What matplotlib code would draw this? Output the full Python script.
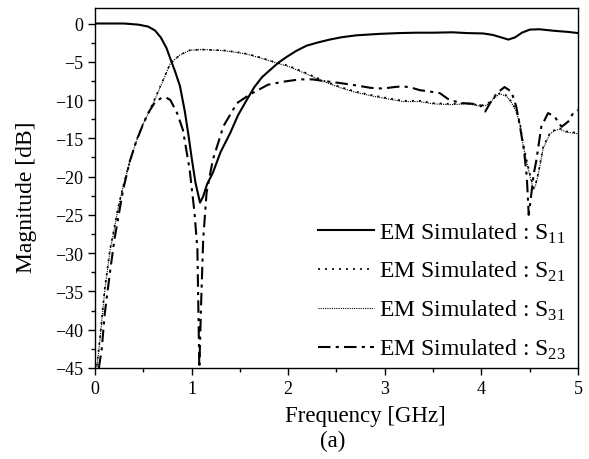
import matplotlib
matplotlib.use("Agg")
import matplotlib.pyplot as plt
from matplotlib.ticker import MultipleLocator

plt.rcParams['font.family'] = ['Liberation Serif', 'DejaVu Serif']
plt.rcParams['mathtext.fontset'] = 'custom'
plt.rcParams['mathtext.rm'] = 'Liberation Serif'

# S11 (solid)
f11 = [0, 0.3, 0.45, 0.55, 0.62, 0.68, 0.74, 0.78, 0.83, 0.88, 0.93, 0.97, 1.0, 1.04, 1.087,
       1.12, 1.16, 1.22, 1.3, 1.4, 1.48, 1.57, 1.65, 1.73, 1.81, 1.9, 1.98, 2.08, 2.19, 2.3,
       2.43, 2.55, 2.7, 2.95, 3.15, 3.33, 3.5, 3.7, 3.85, 4.02, 4.12, 4.2, 4.28, 4.35, 4.42,
       4.5, 4.6, 4.75, 4.9, 5.0]
s11 = [0, 0, -0.15, -0.4, -0.9, -1.8, -3.2, -4.6, -6.3, -8.2, -11.5, -14.8, -17.5, -20.8, -23.4,
       -22.6, -21.0, -19.5, -16.8, -14.3, -12.0, -10.0, -8.3, -7.0, -6.1, -5.1, -4.4, -3.6, -2.9, -2.5,
       -2.1, -1.8, -1.55, -1.35, -1.25, -1.2, -1.2, -1.15, -1.25, -1.3, -1.5, -1.8, -2.1, -1.8, -1.2,
       -0.8, -0.75, -0.95, -1.1, -1.25]

# S21 (sparse dots)
f21 = [0.02, 0.05, 0.1, 0.155, 0.19, 0.24, 0.29, 0.36, 0.43, 0.5, 0.6, 0.69, 0.78, 0.88, 0.98,
       1.1, 1.2, 1.33, 1.45, 1.57, 1.7, 1.85, 2.0, 2.19, 2.35, 2.54, 2.7, 2.88, 3.05, 3.19,
       3.36, 3.5, 3.68, 3.85, 3.99, 4.05, 4.09, 4.14, 4.19, 4.26, 4.31, 4.36, 4.4, 4.43, 4.48,
       4.52, 4.54, 4.56, 4.59, 4.64, 4.71, 4.76, 4.81, 4.88, 4.94, 5.0]
s21 = [-44.7, -41.2, -34.7, -29.5, -27.3, -24.0, -21.3, -18.0, -15.2, -13.0, -10.4, -7.8, -5.2, -4.1, -3.5,
       -3.4, -3.45, -3.5, -3.7, -3.95, -4.4, -5.0, -5.5, -6.5, -7.4, -8.3, -8.9, -9.4, -9.8, -10.1,
       -10.1, -10.4, -10.5, -10.4, -10.7, -10.6, -10.2, -9.6, -9.1, -9.4, -10.2, -11.3, -13.0, -15.6, -18.5,
       -20.5, -21.5, -21.0, -19.5, -16.1, -14.3, -13.9, -13.7, -14.1, -14.2, -14.3]

# S31 (dense dots)
f31 = [0.02, 0.05, 0.1, 0.155, 0.19, 0.24, 0.29, 0.36, 0.43, 0.5, 0.6, 0.69, 0.78, 0.88, 0.98,
       1.1, 1.2, 1.33, 1.45, 1.57, 1.7, 1.85, 2.0, 2.19, 2.35, 2.54, 2.7, 2.88, 3.05, 3.19,
       3.36, 3.5, 3.68, 3.85, 3.99, 4.05, 4.09, 4.14, 4.19, 4.26, 4.31, 4.36, 4.4, 4.43, 4.48,
       4.52, 4.54, 4.56, 4.59, 4.64, 4.71, 4.76, 4.81, 4.88, 4.94, 5.0]
s31 = [-44.9, -41.5, -35.0, -29.7, -27.5, -24.1, -21.4, -18.1, -15.3, -13.1, -10.5, -7.9, -5.2, -4.1, -3.5,
       -3.4, -3.45, -3.55, -3.75, -4.0, -4.45, -5.05, -5.6, -6.6, -7.5, -8.4, -9.0, -9.5, -9.9, -10.2,
       -10.2, -10.5, -10.6, -10.5, -10.8, -10.7, -10.3, -9.7, -9.2, -9.5, -10.3, -11.5, -13.2, -15.8, -18.8,
       -20.8, -21.7, -21.2, -19.7, -16.3, -14.4, -14.0, -13.8, -14.2, -14.3, -14.4]

# S23 (dash-dot)
f23 = [0.04, 0.07, 0.1, 0.155, 0.2, 0.29, 0.36, 0.43, 0.5, 0.56, 0.62, 0.69, 0.74, 0.78, 0.85,
       0.91, 0.98, 1.03, 1.06, 1.08, 1.10, 1.12, 1.155, 1.22, 1.33, 1.47, 1.6, 1.79, 1.95, 2.12,
       2.25, 2.36, 2.55, 2.71, 2.85, 2.98, 3.1, 3.19, 3.28, 3.36, 3.47, 3.57, 3.67, 3.8, 3.92,
       3.99, 4.04, 4.09, 4.16, 4.24, 4.31, 4.36, 4.40, 4.44, 4.47, 4.49, 4.51, 4.54, 4.57, 4.62,
       4.69, 4.76, 4.83, 4.9, 4.95, 5.0]
s23 = [-45, -42.5, -38.0, -32.5, -28.3, -21.8, -18.0, -15.3, -13.1, -11.5, -10.3, -9.7, -9.7, -10.0, -11.7,
       -13.9, -19.1, -24.7, -29.5, -45, -36.0, -28.2, -22.1, -17.8, -13.4, -10.4, -9.3, -8.0, -7.6, -7.3,
       -7.3, -7.5, -7.8, -8.1, -8.4, -8.5, -8.3, -8.2, -8.4, -8.7, -8.9, -9.1, -10.0, -10.4, -10.5,
       -10.7, -11.5, -10.4, -9.1, -8.3, -8.9, -10.8, -13.5, -16.5, -20.0, -25.0, -23.0, -19.8, -17.8, -13.5,
       -11.7, -12.2, -13.5, -12.8, -11.7, -11.3]

labels = ['EM Simulated : S$_{11}$', 'EM Simulated : S$_{21}$',
          'EM Simulated : S$_{31}$', 'EM Simulated : S$_{23}$']

fig = plt.figure(figsize=(5.89, 4.6), dpi=100)
ax = fig.add_axes([0.1613, 0.198, 0.82, 0.782])

ax.plot(f11, s11, color='black', lw=1.5, ls='-', label=labels[0])
ax.plot(f21, s21, color='black', lw=1.2, ls=(0, (1.2, 3)), label=labels[1])
ax.plot(f31, s31, color='black', lw=0.8, ls=(0, (1, 1)), label=labels[2])
ax.plot(f23, s23, color='black', lw=1.5, ls=(0, (6, 2.5, 1.5, 2.5)), label=labels[3])

ax.set_xlim(0, 5)
ax.set_ylim(-45, 2)
ax.xaxis.set_major_locator(MultipleLocator(1))
ax.xaxis.set_minor_locator(MultipleLocator(0.5))
ax.yaxis.set_major_locator(MultipleLocator(5))
ax.yaxis.set_minor_locator(MultipleLocator(2.5))
ax.tick_params(which='both', direction='out', top=False, right=False, labelsize=13, width=1)
ax.tick_params(which='major', length=5)
ax.tick_params(which='minor', length=3)
for sp in ax.spines.values():
    sp.set_linewidth(1.0)

ax.set_xlabel('Frequency [GHz]', fontsize=16.5)
ax.xaxis.set_label_coords(0.559, -0.103)
ax.set_ylabel('Magnitude [dB]', fontsize=17)
ax.yaxis.set_label_coords(-0.12, 0.478)
fig.text(333 / 589, 1 - 441 / 460, '(a)', ha='center', va='center', fontsize=16.5)

ax.legend(loc='lower right', bbox_to_anchor=(1.0, -0.014), frameon=False, fontsize=17,
          handlelength=2.35, handletextpad=0.25, labelspacing=0.62, borderaxespad=0.1)

fig.savefig('out.png', dpi=100)
